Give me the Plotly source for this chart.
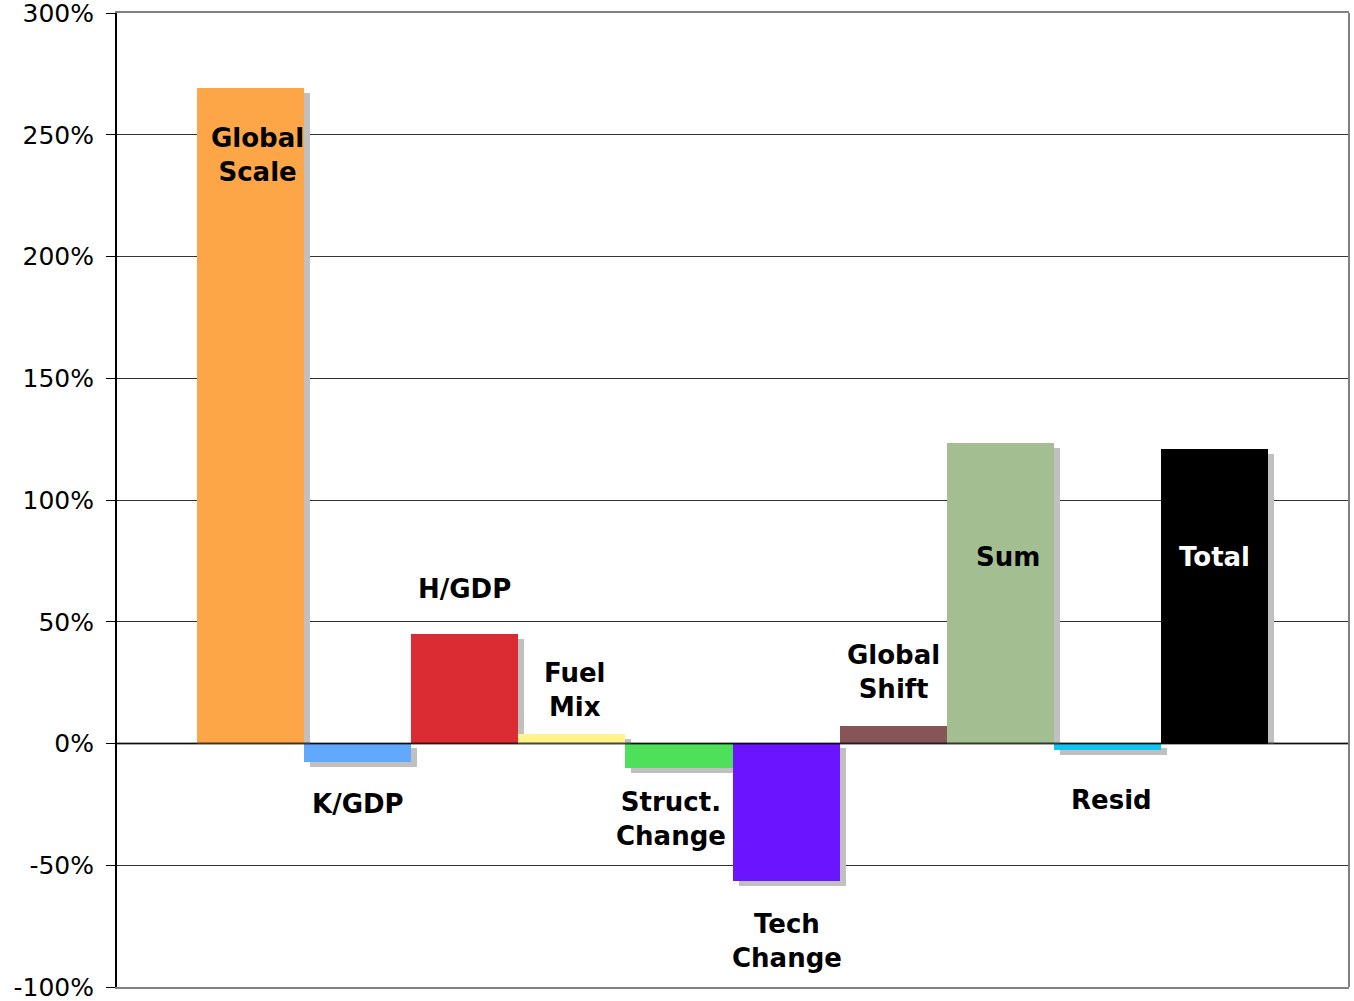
import plotly.graph_objects as go

# Decomposition of the change, in percent
categories = ["Global Scale", "K/GDP", "H/GDP", "Fuel Mix", "Struct. Change",
              "Tech Change", "Global Shift", "Sum", "Resid", "Total"]
values = [269.2, -7.4, 44.8, 3.7, -9.9, -56.3, 7.0, 123.3, -2.5, 120.8]
colors = ["#FCA648", "#62A8FC", "#DC2C33", "#FFF48C", "#4EE05A",
          "#6A14FF", "#875558", "#A3BF92", "#10C6F0", "#000000"]

label_text = ["Global<br>Scale", "K/GDP", "H/GDP", "Fuel<br>Mix", "Struct.<br>Change",
              "Tech<br>Change", "Global<br>Shift", "Sum", "Resid", "Total"]
label_color = ["black"] * 9 + ["white"]
label_y = [241.6, -24.7, 63.3, 21.8, -30.8, -81.0, 29.2, 76.4, -23.4, 76.4]
label_dx = [0.06, 0.0, 0.0, 0.03, -0.07, 0.01, 0.0, 0.07, 0.04, 0.0]

y_ticks = [-100, -50, 0, 50, 100, 150, 200, 250, 300]
y_tick_text = [f"{t}%" for t in y_ticks]

x = list(range(len(categories)))

# drop shadow: shifted right and down, clipped at the zero line for rising bars
SHADOW_DX = 0.056
SHADOW_DY = 2.05
sh_base = [0 if v > 0 else -SHADOW_DY for v in values]
sh_len = [v - SHADOW_DY if v > 0 else v for v in values]

fig = go.Figure()
fig.add_trace(go.Bar(
    x=[i + SHADOW_DX for i in x], y=sh_len, base=sh_base, width=1.0,
    marker=dict(color="#C0C0C0", line=dict(width=0)),
    hoverinfo="skip", showlegend=False,
))
fig.add_trace(go.Bar(
    x=x, y=values, width=1.0,
    marker=dict(color=colors, line=dict(width=0)),
    customdata=categories, hovertemplate="%{customdata}: %{y:.1f}%<extra></extra>",
    showlegend=False,
))

for i, (txt, yy, dx, col) in enumerate(zip(label_text, label_y, label_dx, label_color)):
    fig.add_annotation(
        x=i + dx, y=yy, text=txt, showarrow=False, xanchor="center", yanchor="middle",
        font=dict(family="Verdana, DejaVu Sans", size=26, color=col, weight="bold"),
    )

# zero line drawn above the bars
fig.add_shape(type="line", xref="paper", x0=0, x1=1, yref="y", y0=0, y1=0,
              line=dict(color="rgba(0,0,0,0.7)", width=2), layer="above")
# right border of the plot area
fig.add_shape(type="line", xref="paper", x0=1, x1=1, yref="paper", y0=0, y1=1,
              line=dict(color="#808080", width=2), layer="above")

fig.update_layout(
    width=1354, height=1001,
    margin=dict(l=117, r=5, t=13, b=14),
    paper_bgcolor="white", plot_bgcolor="white",
    barmode="overlay", bargap=0,
    font=dict(family="Verdana, DejaVu Sans", color="black"),
)
fig.update_xaxes(
    range=[-1.248, 10.257], showticklabels=False, ticks="", showgrid=False,
    zeroline=False, showline=True, linecolor="#808080", linewidth=2, mirror=True,
    automargin=False,
)
fig.update_yaxes(
    range=[-100, 300], tickvals=y_ticks, ticktext=y_tick_text,
    tickfont=dict(size=25, color="black"), ticklabeloverflow="allow",
    ticklabelstandoff=7, automargin=False,
    ticks="outside", ticklen=9, tickcolor="black", tickwidth=1,
    showgrid=True, gridcolor="#333333", gridwidth=1,
    zeroline=False, showline=True, linecolor="black", linewidth=2,
)

fig.write_html("out.html")
